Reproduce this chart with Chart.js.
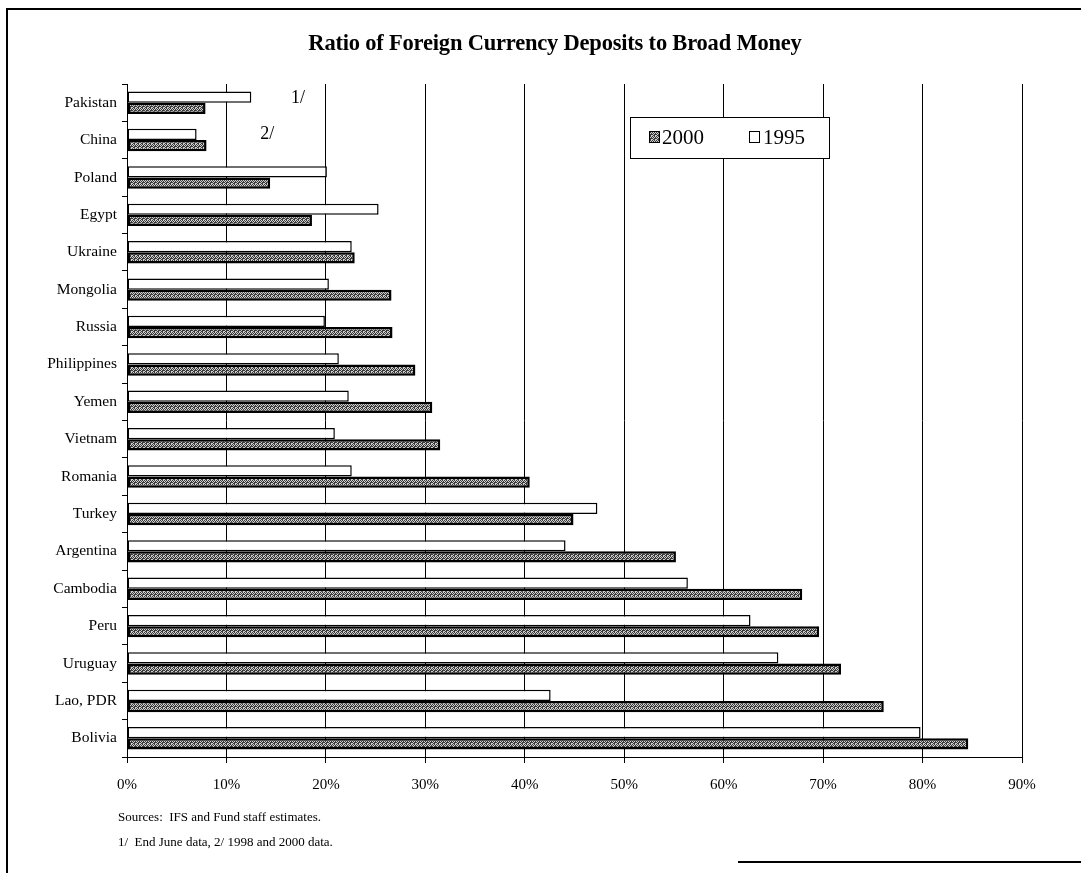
<!DOCTYPE html>
<html>
<head>
<meta charset="utf-8">
<script src="https://cdn.jsdelivr.net/npm/chart.js@4/dist/chart.umd.min.js"></script>
<style>
    html, body { margin: 0; padding: 0; background: #fff; }
    #wrap { position: relative; width: 1081px; height: 873px; overflow: hidden; }
    #chart { position: absolute; left: 0; top: 0; }
    .txt { position: absolute; font-family: "Liberation Serif", "Times New Roman", serif; color: #000; white-space: nowrap; }
    #title { left: 0; width: 1110px; top: 30px; text-align: center; font-size: 22.5px; font-weight: bold; letter-spacing: -0.2px; }
    #note1 { left: 118px; top: 809px; font-size: 13px; }
    #note2 { left: 118px; top: 834px; font-size: 13px; }
</style>
</head>
<body>
<div id="wrap">
    <canvas id="chart" width="1081" height="873"></canvas>
    <div class="txt" id="title">Ratio of Foreign Currency Deposits to Broad Money</div>
    <div class="txt" id="note1">Sources:&nbsp; IFS and Fund staff estimates.</div>
    <div class="txt" id="note2">1/&nbsp; End June data, 2/ 1998 and 2000 data.</div>
</div>
<script>
// Chart data (percent of broad money)
const countries = ['Pakistan', 'China', 'Poland', 'Egypt', 'Ukraine', 'Mongolia', 'Russia',
    'Philippines', 'Yemen', 'Vietnam', 'Romania', 'Turkey', 'Argentina', 'Cambodia',
    'Peru', 'Uruguay', 'Lao, PDR', 'Bolivia'];
const values1995 = [12.5, 7.0, 20.1, 25.3, 22.6, 20.3, 19.9, 21.3, 22.3, 20.9, 22.6,
    47.3, 44.1, 56.4, 62.7, 65.5, 42.6, 79.8];
const values2000 = [7.9, 8.0, 14.4, 18.6, 22.9, 26.6, 26.7, 29.0, 30.7, 31.5, 40.5,
    44.9, 55.2, 67.9, 69.6, 71.8, 76.1, 84.6];
const seriesNames = ['1995', '2000'];
const xMax = 90;
const xStep = 10;

const serif = '"Liberation Serif", "Times New Roman", serif';

// Dithered gray fill like the old print pattern
function makeHatch() {
    const c = document.createElement('canvas');
    c.width = 4;
    c.height = 4;
    const g = c.getContext('2d');
    g.fillStyle = '#cfcfcf';
    g.fillRect(0, 0, 4, 4);
    g.fillStyle = '#3a3a3a';
    [[0, 0], [2, 0], [1, 1], [3, 1], [0, 2], [3, 2], [1, 3], [2, 3], [2, 2]].forEach(p => g.fillRect(p[0], p[1], 1, 1));
    return g.createPattern(c, 'repeat');
}
const hatch = makeHatch();

// Frame, legend box and footnote markers
const extrasPlugin = {
    id: 'extras',
    afterDraw(chart) {
        const ctx = chart.ctx;
        const x = chart.scales.x;
        const y = chart.scales.y;
        ctx.save();

        // page frame
        ctx.strokeStyle = '#000';
        ctx.lineWidth = 2;
        ctx.beginPath();
        ctx.moveTo(7, 873);
        ctx.lineTo(7, 9);
        ctx.lineTo(1081, 9);
        ctx.moveTo(738, 862);
        ctx.lineTo(1081, 862);
        ctx.stroke();

        // legend
        ctx.fillStyle = '#fff';
        ctx.fillRect(630, 117, 199, 41);
        ctx.lineWidth = 1;
        ctx.strokeRect(630.5, 117.5, 199, 41);
        ctx.fillStyle = hatch;
        ctx.fillRect(649, 131, 11, 12);
        ctx.strokeRect(649.5, 131.5, 10, 11);
        ctx.fillStyle = '#fff';
        ctx.fillRect(749, 131, 11, 12);
        ctx.strokeRect(749.5, 131.5, 10, 11);
        ctx.fillStyle = '#000';
        ctx.font = '21px ' + serif;
        ctx.textBaseline = 'middle';
        ctx.textAlign = 'left';
        ctx.fillText(seriesNames[1], 662, 138);
        ctx.fillText(seriesNames[0], 763, 138);

        // footnote markers
        ctx.font = '18px ' + serif;
        ctx.textAlign = 'center';
        ctx.fillText('1/', x.getPixelForValue(17.2), y.getPixelForValue(0) - 4);
        ctx.fillText('2/', x.getPixelForValue(14.1), y.getPixelForValue(1) - 6);
        ctx.restore();
    }
};

const chart = new Chart(document.getElementById('chart'), {
    type: 'bar',
    data: {
        labels: countries,
        datasets: [{
            label: seriesNames[0],
            data: values1995,
            backgroundColor: '#fff',
            borderColor: '#000',
            borderWidth: 1.5,
            borderSkipped: false,
            categoryPercentage: 0.6,
            barPercentage: 1.0
        }, {
            label: seriesNames[1],
            data: values2000,
            backgroundColor: hatch,
            borderColor: '#000',
            borderWidth: 2.5,
            borderSkipped: false,
            categoryPercentage: 0.6,
            barPercentage: 1.0
        }]
    },
    options: {
        indexAxis: 'y',
        responsive: false,
        animation: false,
        layout: { padding: { left: 0, right: 59, top: 84, bottom: 76 } },
        plugins: {
            legend: { display: false },
            title: { display: false },
            tooltip: { enabled: false }
        },
        scales: {
            x: {
                min: 0,
                max: xMax,
                ticks: {
                    stepSize: xStep,
                    padding: 13,
                    color: '#000',
                    font: { family: serif, size: 15 },
                    callback: (v) => v + '%'
                },
                grid: { color: '#000', lineWidth: 1, tickLength: 6 },
                border: { display: true, color: '#000', width: 1 },
                afterFit: (s) => { s.height = 40; }
            },
            y: {
                ticks: {
                    padding: 5,
                    color: '#000',
                    font: { family: serif, size: 15.5 }
                },
                grid: { offset: true, drawOnChartArea: false, color: '#000', tickLength: 5 },
                border: { display: true, color: '#000', width: 1 },
                afterFit: (s) => { s.width = 127; }
            }
        }
    },
    plugins: [extrasPlugin]
});
</script>
</body>
</html>
